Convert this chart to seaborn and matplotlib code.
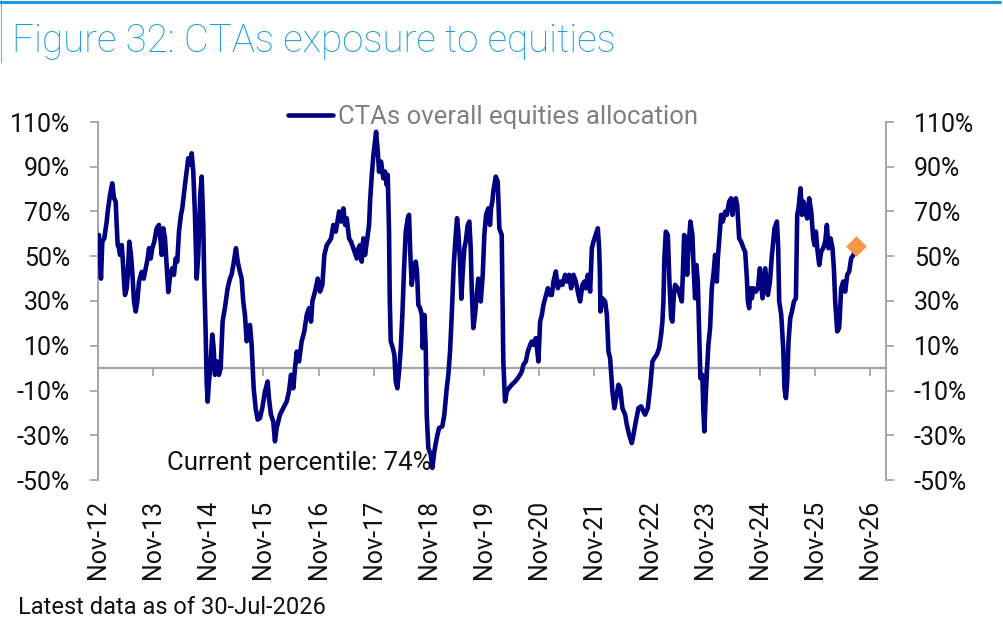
import matplotlib
matplotlib.use("Agg")
import matplotlib.pyplot as plt
import matplotlib.dates as mdates
from matplotlib.lines import Line2D
from matplotlib.ticker import FuncFormatter
import seaborn as sns
import pandas as pd

# ---------------- data ----------------
decimal_year = [
    2012.851, 2012.887, 2012.911, 2012.947, 2012.991, 2013.009, 2013.051, 2013.092, 2013.123, 2013.154,
    2013.172, 2013.190, 2013.214, 2013.232, 2013.263, 2013.281, 2013.305, 2013.323, 2013.354, 2013.372,
    2013.401, 2013.431, 2013.455, 2013.486, 2013.517, 2013.546, 2013.577, 2013.626, 2013.662, 2013.698,
    2013.734, 2013.758, 2013.789, 2013.818,
    2013.854, 2013.898, 2013.939, 2013.970, 2013.988, 2014.017, 2014.048, 2014.079, 2014.108, 2014.144,
    2014.180, 2014.211, 2014.242, 2014.271, 2014.302, 2014.338, 2014.362, 2014.411, 2014.442, 2014.471,
    2014.507, 2014.532, 2014.561, 2014.592, 2014.623, 2014.652, 2014.688, 2014.714, 2014.743, 2014.761,
    2014.786, 2014.804, 2014.822,
    2014.846, 2014.870, 2014.906, 2014.931, 2014.955, 2014.991, 2015.027, 2015.058, 2015.094, 2015.136,
    2015.185, 2015.227, 2015.258, 2015.287, 2015.336, 2015.367, 2015.408, 2015.439, 2015.468, 2015.499,
    2015.530, 2015.590, 2015.620, 2015.639, 2015.657, 2015.693, 2015.729, 2015.771, 2015.813,
    2015.862, 2015.911, 2015.934, 2015.970, 2016.012, 2016.043, 2016.074, 2016.134, 2016.194, 2016.255,
    2016.297, 2016.333, 2016.375, 2016.406, 2016.437, 2016.478, 2016.527, 2016.574, 2016.618, 2016.660,
    2016.696, 2016.720, 2016.768, 2016.817,
    2016.859, 2016.901, 2016.937, 2016.981, 2017.022, 2017.059, 2017.100, 2017.144, 2017.204, 2017.240,
    2017.282, 2017.313, 2017.343, 2017.385, 2017.421, 2017.463, 2017.525, 2017.554, 2017.585, 2017.615,
    2017.644, 2017.675, 2017.724, 2017.748, 2017.766, 2017.797, 2017.826,
    2017.875, 2017.906, 2017.929, 2017.965, 2018.007, 2018.038, 2018.069, 2018.087, 2018.110, 2018.123,
    2018.141, 2018.178, 2018.207, 2018.232, 2018.261, 2018.292, 2018.323, 2018.352, 2018.383, 2018.413,
    2018.450, 2018.473, 2018.497, 2018.522, 2018.558, 2018.595, 2018.618, 2018.642, 2018.673, 2018.704,
    2018.722, 2018.751, 2018.776, 2018.794, 2018.823,
    2018.867, 2018.896, 2018.932, 2018.976, 2019.017, 2019.077, 2019.113, 2019.157, 2019.186, 2019.217,
    2019.248, 2019.284, 2019.320, 2019.344, 2019.367, 2019.398, 2019.422, 2019.447, 2019.476, 2019.501,
    2019.538, 2019.567, 2019.592, 2019.610, 2019.639, 2019.670, 2019.701, 2019.730, 2019.774, 2019.810,
    2019.839, 2019.870, 2019.911, 2019.942, 2019.960, 2019.984, 2020.002, 2020.046, 2020.082, 2020.093,
    2020.111, 2020.154, 2020.165, 2020.183, 2020.214, 2020.245, 2020.287, 2020.336, 2020.396, 2020.445,
    2020.486, 2020.517, 2020.546, 2020.590, 2020.626, 2020.668, 2020.698, 2020.727, 2020.771, 2020.818,
    2020.849, 2020.880, 2020.909, 2020.940, 2020.989, 2021.030, 2021.061, 2021.090, 2021.134, 2021.170,
    2021.212, 2021.253, 2021.302, 2021.333, 2021.375, 2021.411, 2021.453, 2021.496, 2021.544, 2021.574,
    2021.616, 2021.652, 2021.678, 2021.714, 2021.756, 2021.787, 2021.816,
    2021.895, 2021.919, 2021.932, 2021.943, 2021.979, 2022.028, 2022.059, 2022.088, 2022.118, 2022.160,
    2022.196, 2022.269, 2022.300, 2022.341, 2022.391, 2022.421, 2022.463, 2022.512, 2022.541, 2022.585,
    2022.632, 2022.681, 2022.722, 2022.753, 2022.802,
    2022.849, 2022.886, 2022.922, 2022.965, 2023.007, 2023.043, 2023.067, 2023.085, 2023.103, 2023.129,
    2023.165, 2023.194, 2023.225, 2023.248, 2023.274, 2023.297, 2023.346, 2023.383, 2023.419, 2023.437,
    2023.461, 2023.492, 2023.515, 2023.539, 2023.575, 2023.611, 2023.636, 2023.660, 2023.684, 2023.709,
    2023.733, 2023.756, 2023.792, 2023.810, 2023.828,
    2023.854, 2023.878, 2023.901, 2023.932, 2023.963, 2023.992, 2024.023, 2024.054, 2024.072, 2024.095,
    2024.132, 2024.162, 2024.204, 2024.235, 2024.277, 2024.313, 2024.336, 2024.367, 2024.398, 2024.422,
    2024.458, 2024.494, 2024.536, 2024.567, 2024.598, 2024.616, 2024.639, 2024.663, 2024.688, 2024.717,
    2024.761, 2024.797, 2024.833,
    2024.881, 2024.930, 2024.978, 2025.015, 2025.051, 2025.098, 2025.142, 2025.165, 2025.183, 2025.220,
    2025.256, 2025.279, 2025.305, 2025.328, 2025.352, 2025.383, 2025.414, 2025.450, 2025.486, 2025.510,
    2025.533, 2025.570, 2025.595, 2025.624, 2025.655, 2025.691, 2025.727, 2025.764, 2025.800, 2025.824,
    2025.849, 2025.873, 2025.909, 2025.945, 2025.981, 2026.018, 2026.048, 2026.077, 2026.114, 2026.150,
    2026.175, 2026.199, 2026.235, 2026.271, 2026.308, 2026.344, 2026.380, 2026.417, 2026.453, 2026.489,
    2026.531, 2026.577,
]

allocation_pct = [
    59.5, 40, 56.5, 58, 65.5, 70, 77.4, 82.6, 76, 74.4,
    64, 55, 53.6, 50.6, 55, 49, 38.7, 32.7, 35.7, 41.7,
    56.5, 50.6, 43, 29.8, 25.3, 29.8, 38.7, 43, 40, 44.6,
    49, 53.6, 49, 53.6,
    56.5, 62.5, 64, 56.5, 50.6, 62.5, 58, 46, 34, 41.7,
    44.6, 41.7, 49, 47.6, 61, 68.5, 71.4, 82, 88, 93.8,
    91, 96, 88, 68.5, 40, 50.6, 77.4, 85.6, 64, 38.7,
    16, -6, -15,
    -6, 0, 15, 9, -3, 3, -3, 0, 21, 27,
    35.7, 40, 42, 46, 53.6, 47.6, 43, 40, 29.8, 23.8,
    12, 19.3, 10.4, 0, -9, -17.9, -23, -22.3, -17.9,
    -10.4, -6, -13.4, -20.8, -23.8, -32.7, -26.8, -20.8, -17.9, -14.9,
    -10.4, -3, -9, 0, 7.4, 3, 12, 16.4, 23.8, 26.8,
    20.8, 29.8, 34.2, 40,
    34.2, 37.2, 50.6, 55, 56.5, 58, 64, 61, 70, 65.5,
    71.4, 64, 67, 58, 56.5, 53.6, 49, 53.6, 55, 47.6,
    58, 50.6, 59.5, 64, 74.4, 86.3, 95,
    105.6, 96.7, 87.8, 92.3, 84.8, 87.8, 81.8, 86.3, 61, 31,
    12, 9, 6, -6, -9, -1.5, 9, 23.8, 44.6, 61,
    67, 68.5, 50.6, 37.2, 44.6, 47.6, 43, 28.3, 26.8, 23.8,
    9, 23.8, 9, -20.8, -35.7,
    -38.7, -44.6, -37.2, -31.2, -26.8, -26, -20.8, -9, -3, 7.4,
    23.8, 46, 59.5, 67, 61, 47.6, 31, 43, 53.6, 56.5,
    64, 65.5, 53.6, 35.7, 17.9, 23.8, 32.7, 40, 29.8, 41.7,
    59.5, 68.5, 71.4, 64, 71.4, 74.4, 78.9, 85.6, 83.3, 75.9,
    62.5, 59.5, 38.7, 3, -14.9, -10.4, -8.9, -7.4, -6, -4.5,
    -3, -1.5, 1.5, 3, 7.4, 10.4, 11.9, 10.4, 13.4, 3,
    20.8, 23.8, 28.3, 31.2, 35.7, 32.7, 32.7, 38.7, 43.2, 35.7,
    38.7, 37.2, 41.7, 38.7, 41.7, 35.7, 41.7, 38.7, 32.7, 29.8,
    37.2, 38.7, 35.7, 41.7, 34.2, 53.6, 56.5,
    62.5, 53.6, 43.2, 25.3, 31.2, 29.8, 23.8, 7.4, 4.5, -10.4,
    -17.9, -7.4, -8.9, -17.9, -20.8, -25.3, -29.8, -33.5, -29.8, -23.8,
    -17.9, -17.1, -19.3, -20.8, -17.9,
    -7.4, 3, 4.5, 6, 8.9, 14.9, 20.8, 29.8, 49.1, 61,
    59.5, 38.7, 22.3, 20.8, 32.7, 37.2, 35.7, 32.7, 29.8, 41.7,
    59.5, 58, 41.7, 53.6, 65.5, 59.5, 43.2, 31.2, 46.1, 38.7,
    16.4, -4.5, -3, -19.3, -28.3,
    -11.9, 0, 10.4, 17.9, 35.7, 41.7, 50.6, 38.7, 49.1, 56.5,
    68.5, 65.5, 69.9, 68.5, 74.4, 75.9, 68.5, 74.4, 75.9, 72.9,
    58, 56.5, 53.6, 52, 40, 29.8, 26.8, 35.7, 31.2, 35.7,
    34.2, 35.7, 44.6,
    31.2, 44.6, 32.7, 38.7, 50.6, 62.5, 65.5, 53.6, 29.8, 23.8,
    8.9, -8.9, -13.4, -6, 11.9, 22.3, 25.3, 29.8, 31.2, 68.5,
    71.4, 80.4, 68.5, 74.4, 69.9, 66.9, 75.9, 69.9, 58, 55,
    61, 53.6, 46.1, 52.1, 53.6, 56.5, 64, 53.6, 58, 53.6,
    44.6, 29.8, 16.4, 17.9, 35.7, 38.7, 34.2, 41.7, 43.2, 49.1,
    50.6, 54.5,
]

tick_years = list(range(2012, 2027))
tick_labels = ["Nov-12", "Nov-13", "Nov-14", "Nov-15", "Nov-16", "Nov-17", "Nov-18",
               "Nov-19", "Nov-20", "Nov-21", "Nov-22", "Nov-23", "Nov-24", "Nov-25", "Nov-26"]
y_ticks = [-50, -30, -10, 10, 30, 50, 70, 90, 110]
series_label = "CTAs overall equities allocation"
title_text = "Figure 32: CTAs exposure to equities"
note_text = "Latest data as of 30-Jul-2026"
percentile_text = "Current percentile: 74%"


def to_timestamp(t):
    y = int(t)
    start = pd.Timestamp(y, 1, 1)
    end = pd.Timestamp(y + 1, 1, 1)
    return start + (end - start) * (t - y)


df = pd.DataFrame({
    "date": [to_timestamp(t) for t in decimal_year],
    "alloc": allocation_pct,
})
tick_dates = [pd.Timestamp(y, 11, 1) for y in tick_years]

# ---------------- styling ----------------
sns.set_theme(style="white")
plt.rcParams["font.family"] = ["Roboto", "DejaVu Sans"]

NAVY = "#000080"
ORANGE = "#F79646"
GREY = "#A6A6A6"
BLUE = "#1A9BDB"
TEXT = "#111111"

fig = plt.figure(figsize=(10.04, 6.41), dpi=100)
ax = fig.add_axes([98 / 1004, 1 - 480 / 641, 788 / 1004, 358 / 641])

sns.lineplot(data=df, x="date", y="alloc", ax=ax, color=NAVY, linewidth=3.3,
             label=series_label, zorder=3)
last = df.iloc[[-1]]
sns.scatterplot(data=last, x="date", y="alloc", ax=ax, marker="D", s=110,
                color=ORANGE, edgecolor=ORANGE, linewidth=0, zorder=4, legend=False)

ymin, ymax = -50, 110
ax.set_ylim(ymin, ymax)
ax.set_yticks(y_ticks)
ax.yaxis.set_major_formatter(FuncFormatter(lambda v, p: f"{v:.0f}%"))
ax.tick_params(axis="y", left=True, right=True, labelleft=True, labelright=True,
               direction="out", length=6, width=1.3, color=GREY,
               labelsize=18, labelcolor=TEXT, pad=14)

ax.set_xlim(pd.Timestamp(2012, 11, 1), pd.Timestamp(2027, 2, 14))
ax.set_xticks(tick_dates)
ax.set_xticklabels(tick_labels, rotation=90)
ax.tick_params(axis="x", bottom=True, length=0, pad=14, labelsize=18, labelcolor=TEXT)
ax.set_xlabel("")
ax.set_ylabel("")

for side in ("left", "right"):
    ax.spines[side].set_visible(True)
    ax.spines[side].set_color(GREY)
    ax.spines[side].set_linewidth(1.4)
for side in ("top", "bottom"):
    ax.spines[side].set_visible(False)

# zero line with the year tick marks
zero_frac = (0 - ymin) / (ymax - ymin)
sec = ax.secondary_xaxis(zero_frac)
sec.set_xticks(mdates.date2num(tick_dates))
sec.set_xticklabels([])
sec.tick_params(direction="out", length=6, width=1.3, color=GREY)
for s in sec.spines.values():
    s.set_color(GREY)
    s.set_linewidth(1.6)

leg = ax.legend(loc="center left", bbox_to_anchor=(0.241, 1.014), frameon=False,
                fontsize=18.5, handlelength=1.74, handletextpad=0.2,
                borderpad=0, borderaxespad=0, labelcolor="#7F7F7F")

ax.text(0.0876, 0.0475, percentile_text, transform=ax.transAxes, ha="left",
        va="center", fontsize=18.5, color=TEXT)

fig.text(12 / 1004, 1 - 52 / 641, title_text, fontsize=27.7, color=BLUE,
         fontweight="light", ha="left", va="baseline")
fig.text(18 / 1004, 1 - 607 / 641, note_text, fontsize=17, color=TEXT,
         ha="left", va="center")

fig.add_artist(Line2D([0, 0.996], [1 - 1.5 / 641, 1 - 1.5 / 641], transform=fig.transFigure,
                      color=BLUE, linewidth=2.2))
fig.add_artist(Line2D([0.8 / 1004, 0.8 / 1004], [1, 1 - 62 / 641], transform=fig.transFigure,
                      color=BLUE, linewidth=0.8, alpha=0.7))

fig.savefig("out.png", dpi=100)
